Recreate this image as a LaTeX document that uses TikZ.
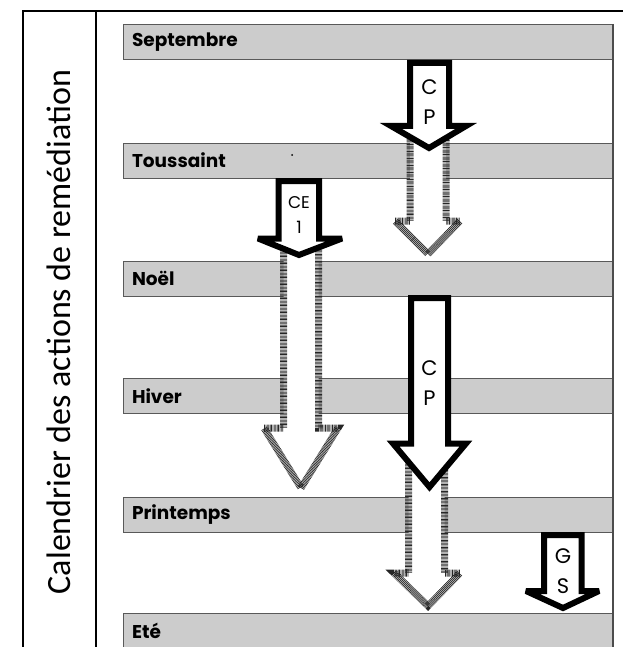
\documentclass[tikz,border=0pt]{standalone}
\usepackage{fontspec}
\setmainfont{Carlito}
\newfontfamily\comic{Poppins}
\begin{document}
\begin{tikzpicture}[x=1pt,y=-1pt,
  band/.style={draw=black!65,fill=black!20,line width=0.8pt,minimum width=490pt,
    minimum height=35pt,text width=472pt,inner xsep=9pt,align=left,
    font=\comic\bfseries\fontsize{18.5}{18.5}\selectfont},
  solid arrow/.style={draw=black,fill=white,line width=6pt,miter limit=4},
  hatched arrow/.style={draw=black!85,fill=white,line width=7pt,
    dash pattern=on 0.7pt off 0.7pt},
  tag/.style={align=center,inner sep=0pt,font=\comic\fontsize{21}{30}\selectfont}]
        \useasboundingbox (0,0) rectangle (623,647);
        % table frame
        \draw[line width=1.6pt] (23,647) -- (23,11) -- (623,11);
        \draw[line width=1.6pt] (96,11) -- (96,647);
        \node[rotate=90,anchor=base,font=\fontsize{34}{34}\selectfont] (title) at (70,332)
            {Calendrier des actions de remédiation};
        % periods
        \node[band] (sept) at (368,42) {Septembre};
        \node[band] (tous) at (368,160.5) {Toussaint};
        \node[band] (noel) at (368,278.5) {Noël};
        \node[band] (hiver) at (368,396) {Hiver};
        \node[band] (print) at (368,514.5) {Printemps};
        \node[band] (ete) at (368,630.5) {Eté};
        \draw[black!70,line width=1.2pt] (613,24) -- (613,647);
        \fill (292,155) circle (1pt);
        % hatched arrows
        \draw[hatched arrow] (410,126) -- (410,221) -- (395,221) -- (428,254)
            -- (460,221) -- (446,221) -- (446,126);
        \draw[hatched arrow] (283.5,238) -- (283.5,428) -- (264,428) -- (301,488)
            -- (338,428) -- (318.5,428) -- (318.5,238);
        \draw[hatched arrow] (408.5,443) -- (408.5,573) -- (394,573) -- (428,606)
            -- (460,573) -- (444.5,573) -- (444.5,443);
        % solid arrows
        \draw[solid arrow] (410,63) -- (410,126) -- (391,126) -- (429,148)
            -- (466,126) -- (449,126) -- (449,63) -- cycle;
        \draw[solid arrow] (278.5,181) -- (278.5,238.5) -- (258,238.5) -- (299,255)
            -- (342,238.5) -- (319,238.5) -- (319,181) -- cycle;
        \draw[solid arrow] (411,298) -- (411,443.5) -- (393,443.5) -- (429.5,487)
            -- (466,443.5) -- (448,443.5) -- (448,298) -- cycle;
        \draw[solid arrow] (544,535) -- (544,591) -- (526,591) -- (563,608)
            -- (599,591) -- (581.5,591) -- (581.5,535) -- cycle;
        % class labels
        \node[tag] (cpA) at (429.5,102) {C\\P};
        \node[tag,font=\comic\fontsize{17}{25}\selectfont] (ceA) at (299,215) {CE\\1};
        \node[tag] (cpB) at (429.5,383) {C\\P};
        \node[tag] (gsA) at (563,571) {G\\S};
\end{tikzpicture}
\end{document}
